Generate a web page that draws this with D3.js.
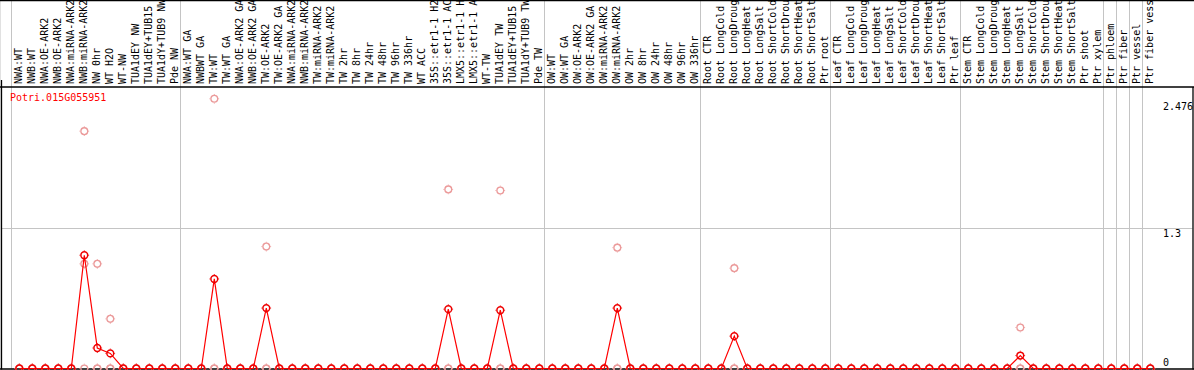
<!DOCTYPE html>
<html><head><meta charset="utf-8">
<script src="https://cdn.jsdelivr.net/npm/d3@7"></script>
<style>
body{margin:0;background:#fff}
svg{display:block;background:#fff}
text{font-family:"DejaVu Sans Mono","Liberation Mono",monospace;font-size:10px}
</style>
</head><body>
<svg id="chart" width="1194" height="370"></svg>
<script>
const categories = [
  "NWA:WT","NWB:WT","NWA:OE-ARK2","NWB:OE-ARK2","NWA:miRNA-ARK2","NWB:miRNA-ARK2","NW 0hr","WT H2O","WT-NW","TUA1dEY NW","TUA1dEY+TUB15","TUA1dY+TUB9 NW","Pde NW",
  "NWA:WT GA","NWBWT GA","TW:WT","TW:WT GA","NWA:OE-ARK2 GA","NWB:OE-ARK2 GA","TW:OE-ARK2","TW:OE-ARK2 GA","NWA:miRNA-ARK2","NWB:miRNA-ARK2","TW:miRNA-ARK2","TW:miRNA-ARK2","TW 2hr","TW 8hr","TW 24hr","TW 48hr","TW 96hr","TW 336hr","WT ACC","35S::etr1-1 H2","35S::etr1-1 AC","LMX5::etr1-1 H","LMX5::etr1-1 A","WT-TW","TUA1dEY TW","TUA1dEY+TUB15","TUA1dY+TUB9 TW","Pde TW",
  "OW:WT","OW:WT GA","OW:OE-ARK2","OW:OE-ARK2 GA","OW:miRNA-ARK2","OW:miRNA-ARK2","OW 2hr","OW 8hr","OW 24hr","OW 48hr","OW 96hr","OW 336hr",
  "Root CTR","Root LongCold","Root LongDroug","Root LongHeat","Root LongSalt","Root ShortCold","Root ShortDrou","Root ShortHeat","Root ShortSalt","Ptr root",
  "Leaf CTR","Leaf LongCold","Leaf LongDroug","Leaf LongHeat","Leaf LongSalt","Leaf ShortCold","Leaf ShortDrou","Leaf ShortHeat","Leaf ShortSalt","Ptr leaf",
  "Stem CTR","Stem LongCold","Stem LongDroug","Stem LongHeat","Stem LongSalt","Stem ShortCold","Stem ShortDrou","Stem ShortHeat","Stem ShortSalt","Ptr shoot","Ptr xylem",
  "Ptr phloem","Ptr fiber","Ptr vessel","Ptr fiber vess"
];
const groupStarts = [0, 13, 41, 53, 63, 73, 84, 85, 86, 87, 88];

// mean expression (red line)
const meanValues = [
  0,0,0,0,0,1.05,0.19,0.14,0,0,0,0,0,
  0,0,0.83,0,0,0,0.56,0,0,0,0,0,0,0,0,0,0,0,0,0,0.55,0,0,0,0.54,0,0,0,
  0,0,0,0,0,0.56,0,0,0,0,0,0,
  0,0,0.30,0,0,0,0,0,0,0,
  0,0,0,0,0,0,0,0,0,0,
  0,0,0,0,0.12,0,0,0,0,0,0,
  0,0,0,0
];
// replicate values (pink circles)
const replicateA = [
  0,0,0,0,0,2.20,0.97,0.46,0,0,0,0,0,
  0,0,2.50,0,0,0,1.13,0,0,0,0,0,0,0,0,0,0,0,0,0,1.66,0,0,0,1.65,0,0,0,
  0,0,0,0,0,1.12,0,0,0,0,0,0,
  0,0,0.93,0,0,0,0,0,0,0,
  0,0,0,0,0,0,0,0,0,0,
  0,0,0,0,0.38,0,0,0,0,0,0,
  0,0,0,0
];
const replicateB = [
  0,0,0,0,0,0.97,0,0,0,0,0,0,0,
  0,0,0,0,0,0,0,0,0,0,0,0,0,0,0,0,0,0,0,0,0,0,0,0,0,0,0,0,
  0,0,0,0,0,0,0,0,0,0,0,0,
  0,0,0,0,0,0,0,0,0,0,
  0,0,0,0,0,0,0,0,0,0,
  0,0,0,0,0,0,0,0,0,0,0,
  0,0,0,0
];
const replicateC = [
  0,0,0,0,0,0,0,0,0,0,0,0,0,
  0,0,0,0,0,0,0,0,0,0,0,0,0,0,0,0,0,0,0,0,0,0,0,0,0,0,0,0,
  0,0,0,0,0,0,0,0,0,0,0,0,
  0,0,0,0,0,0,0,0,0,0,
  0,0,0,0,0,0,0,0,0,0,
  0,0,0,0,0,0,0,0,0,0,0,
  0,0,0,0
];
const yTickValues = [0, 1.3, 2.476];
const gridValues = [1.3];
const geneName = "Potri.015G055951";

const W = 1194, H = 370;
const svg = d3.select("#chart");

const x = d3.scaleBand().domain(d3.range(categories.length)).range([12.8, 12.8 + 13 * categories.length]).padding(0);
const cx = i => x(i) + x.bandwidth() / 2;
const y = d3.scaleLinear().domain([0, 2.6]).range([368.5, 88]);

const plotTop = 87, plotBottom = 368.5, plotLeft = 1.5, plotRight = 1192.5;

// vertical group separators
svg.append("g").selectAll("line").data(groupStarts).join("line")
  .attr("x1", d => Math.round(x(d) - 2.1) + 0.5).attr("x2", d => Math.round(x(d) - 2.1) + 0.5)
  .attr("y1", 0).attr("y2", plotBottom)
  .attr("stroke", "#c4c4c4").attr("stroke-width", 1);

// horizontal gridlines
svg.append("g").selectAll("line").data(gridValues).join("line")
  .attr("x1", plotLeft).attr("x2", plotRight)
  .attr("y1", d => Math.round(y(d)) + 0.5).attr("y2", d => Math.round(y(d)) + 0.5)
  .attr("stroke", "#c4c4c4").attr("stroke-width", 1);

// frame
const frame = svg.append("g").attr("stroke", "#000").attr("stroke-width", 1.3);
frame.append("line").attr("x1", 0).attr("x2", W).attr("y1", 0.6).attr("y2", 0.6);
frame.append("line").attr("x1", 0).attr("x2", W).attr("y1", plotTop).attr("y2", plotTop);
frame.append("line").attr("x1", 0).attr("x2", W).attr("y1", plotBottom + 0.5).attr("y2", plotBottom + 0.5);
frame.append("line").attr("x1", plotLeft).attr("x2", plotLeft).attr("y1", 80).attr("y2", plotBottom + 1);
frame.append("line").attr("x1", plotRight + 0.5).attr("x2", plotRight + 0.5).attr("y1", plotTop).attr("y2", plotBottom + 1);

// category labels
svg.append("g").selectAll("text").data(categories).join("text")
  .attr("transform", (d, i) => `translate(${cx(i) + 2.8},84) rotate(-90)`)
  .attr("text-anchor", "start")
  .attr("fill", "#000")
  .text(d => d);

// right axis labels
svg.append("g").selectAll("text").data(yTickValues).join("text")
  .attr("x", 1163)
  .attr("y", d => d === 0 ? y(d) - 3 : y(d) + 8.5)
  .attr("fill", "#000")
  .text(d => d);

// gene name
svg.append("text").attr("x", 10).attr("y", 101).attr("fill", "#ff0000").text(geneName);

function marker(g, color, sw) {
  g.append("circle").attr("r", 3.4).attr("fill", "none").attr("stroke", color).attr("stroke-width", sw);
  g.append("path").attr("d", "M0,-4.8V-4M0,4V4.8M-4.8,0H-4M4,0H4.8").attr("stroke", color).attr("stroke-width", 1);
}

// replicate points
const pink = "#eb9a9a";
[replicateC, replicateB, replicateA].forEach(arr => {
  svg.append("g").selectAll("g").data(arr).join("g")
    .attr("transform", (d, i) => `translate(${cx(i)},${y(d)})`)
    .each(function () { marker(d3.select(this), pink, 1.3); });
});

// mean line
const line = d3.line().x((d, i) => cx(i)).y(d => y(d));
svg.append("path").datum(meanValues).attr("d", line)
  .attr("fill", "none").attr("stroke", "#ff0000").attr("stroke-width", 1.2);

svg.append("g").selectAll("g").data(meanValues).join("g")
  .attr("transform", (d, i) => `translate(${cx(i)},${y(d)})`)
  .each(function () { marker(d3.select(this), "#ee0000", 1.5); });
</script>
</body></html>
